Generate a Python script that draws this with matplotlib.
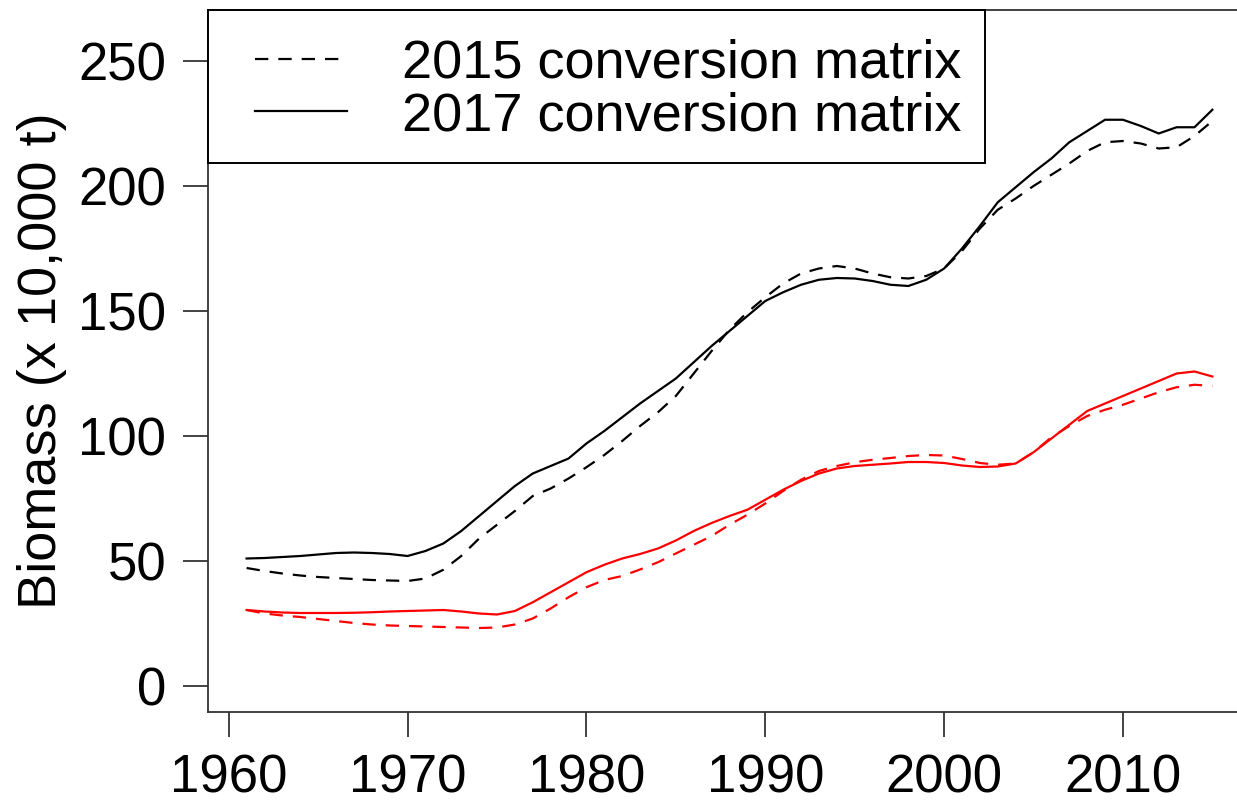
import numpy as np
import matplotlib
matplotlib.use("Agg")
import matplotlib.pyplot as plt
from matplotlib.patches import Rectangle

plt.rcParams['font.family'] = ['Liberation Sans', 'DejaVu Sans']

years = np.arange(1961, 2016)

# total biomass, black
total_2017 = [51.0, 51.2, 51.6, 52.0, 52.6, 53.2, 53.4, 53.2, 52.8, 52.0,
              54.0, 57.0, 62.0, 68.0, 74.0, 80.0, 85.0, 88.0, 91.0, 97.0,
              102.0, 107.5, 113.0, 118.0, 123.0, 129.5, 136.0, 142.0, 148.0, 154.0,
              157.5, 160.5, 162.5, 163.2, 163.0, 162.0, 160.5, 160.0, 162.5, 167.0,
              175.0, 184.0, 193.5, 199.5, 205.5, 211.0, 217.5, 222.0, 226.5, 226.5,
              224.0, 221.0, 223.5, 223.5, 230.5]
total_2015 = [47.2, 46.0, 45.0, 44.2, 43.6, 43.2, 42.8, 42.4, 42.2, 42.0,
              43.0, 46.5, 52.0, 59.0, 64.5, 70.0, 76.0, 79.0, 83.0, 87.5,
              92.4, 98.0, 104.0, 109.5, 116.0, 125.0, 134.0, 142.5, 149.5, 155.5,
              161.0, 165.0, 167.0, 168.0, 167.0, 165.0, 163.5, 163.0, 164.0, 167.0,
              174.0, 183.0, 190.5, 195.0, 200.0, 204.5, 209.0, 214.0, 217.5, 218.0,
              217.0, 215.0, 215.5, 220.0, 226.0]

# second group, red
red_2017 = [30.4, 29.8, 29.4, 29.2, 29.2, 29.2, 29.3, 29.5, 29.8, 30.0,
            30.2, 30.4, 29.8, 29.0, 28.6, 30.0, 33.5, 37.5, 41.5, 45.5,
            48.5, 51.0, 52.8, 55.0, 58.2, 62.0, 65.2, 68.0, 70.5, 74.5,
            78.5, 82.0, 85.0, 87.0, 88.0, 88.5, 89.0, 89.6, 89.6, 89.2,
            88.2, 87.6, 87.8, 89.0, 93.5, 99.0, 104.5, 110.0, 113.0, 116.0,
            119.0, 122.0, 125.0, 125.8, 123.8]
red_2015 = [30.4, 29.0, 28.2, 27.6, 26.8, 26.0, 25.2, 24.6, 24.2, 24.0,
            23.8, 23.6, 23.4, 23.2, 23.4, 24.6, 27.0, 31.0, 35.5, 39.5,
            42.4, 44.0, 46.6, 49.5, 53.0, 56.5, 60.0, 64.5, 68.5, 73.0,
            78.0, 82.5, 86.0, 88.0, 89.5, 90.5, 91.2, 92.0, 92.4, 92.2,
            90.8, 89.2, 88.5, 89.0, 93.5, 99.5, 104.0, 108.0, 110.5, 112.5,
            115.0, 117.5, 119.5, 120.5, 120.0]

xticks = [1960, 1970, 1980, 1990, 2000, 2010]
yticks = [0, 50, 100, 150, 200, 250]
labels = ["2015 conversion matrix", "2017 conversion matrix"]

dash = (0, (6, 4.5))
lw = 1.6

fig = plt.figure(figsize=(12.37, 8.05), dpi=100)
ax = fig.add_axes([208 / 1237, 1 - 712 / 805, 1043 / 1237, 702 / 805])

ax.plot(years, total_2015, color='black', lw=lw, ls=dash, label=labels[0])
ax.plot(years, total_2017, color='black', lw=lw, label=labels[1])
ax.plot(years, red_2015, color='red', lw=lw, ls=dash)
ax.plot(years, red_2017, color='red', lw=lw)

ax.set_xlim(1958.84, 2017.16)
ax.set_ylim(-10.4, 270.4)
ax.set_xticks(xticks)
ax.set_yticks(yticks)
ax.tick_params(axis='both', labelsize=38, length=18, width=1.2, color='#222222')
ax.tick_params(axis='y', pad=12)
ax.tick_params(axis='x', pad=12)
for s in ax.spines.values():
    s.set_linewidth(1.3)
    s.set_color('#333333')

ax.set_ylabel("Biomass (x 10,000 t)", fontsize=39, va='center')
ax.yaxis.set_label_coords(-166 / 1043, 0.5)

# R-style legend box: frame drawn separately so the padding can be uneven
box = Rectangle((0, 1 - 153 / 702), 777 / 1043, 153 / 702, transform=ax.transAxes,
                facecolor='white', edgecolor='black', lw=1.4, zorder=3, clip_on=False)
ax.add_patch(box)
leg = ax.legend(loc='upper left', bbox_to_anchor=(47 / 1043, 1 - 29 / 702),
                borderaxespad=0, borderpad=0, frameon=False, fontsize=39,
                handlelength=1.70, handletextpad=1.01, labelspacing=0.04)
leg.set_zorder(4)

fig.savefig("out.png", dpi=100)
